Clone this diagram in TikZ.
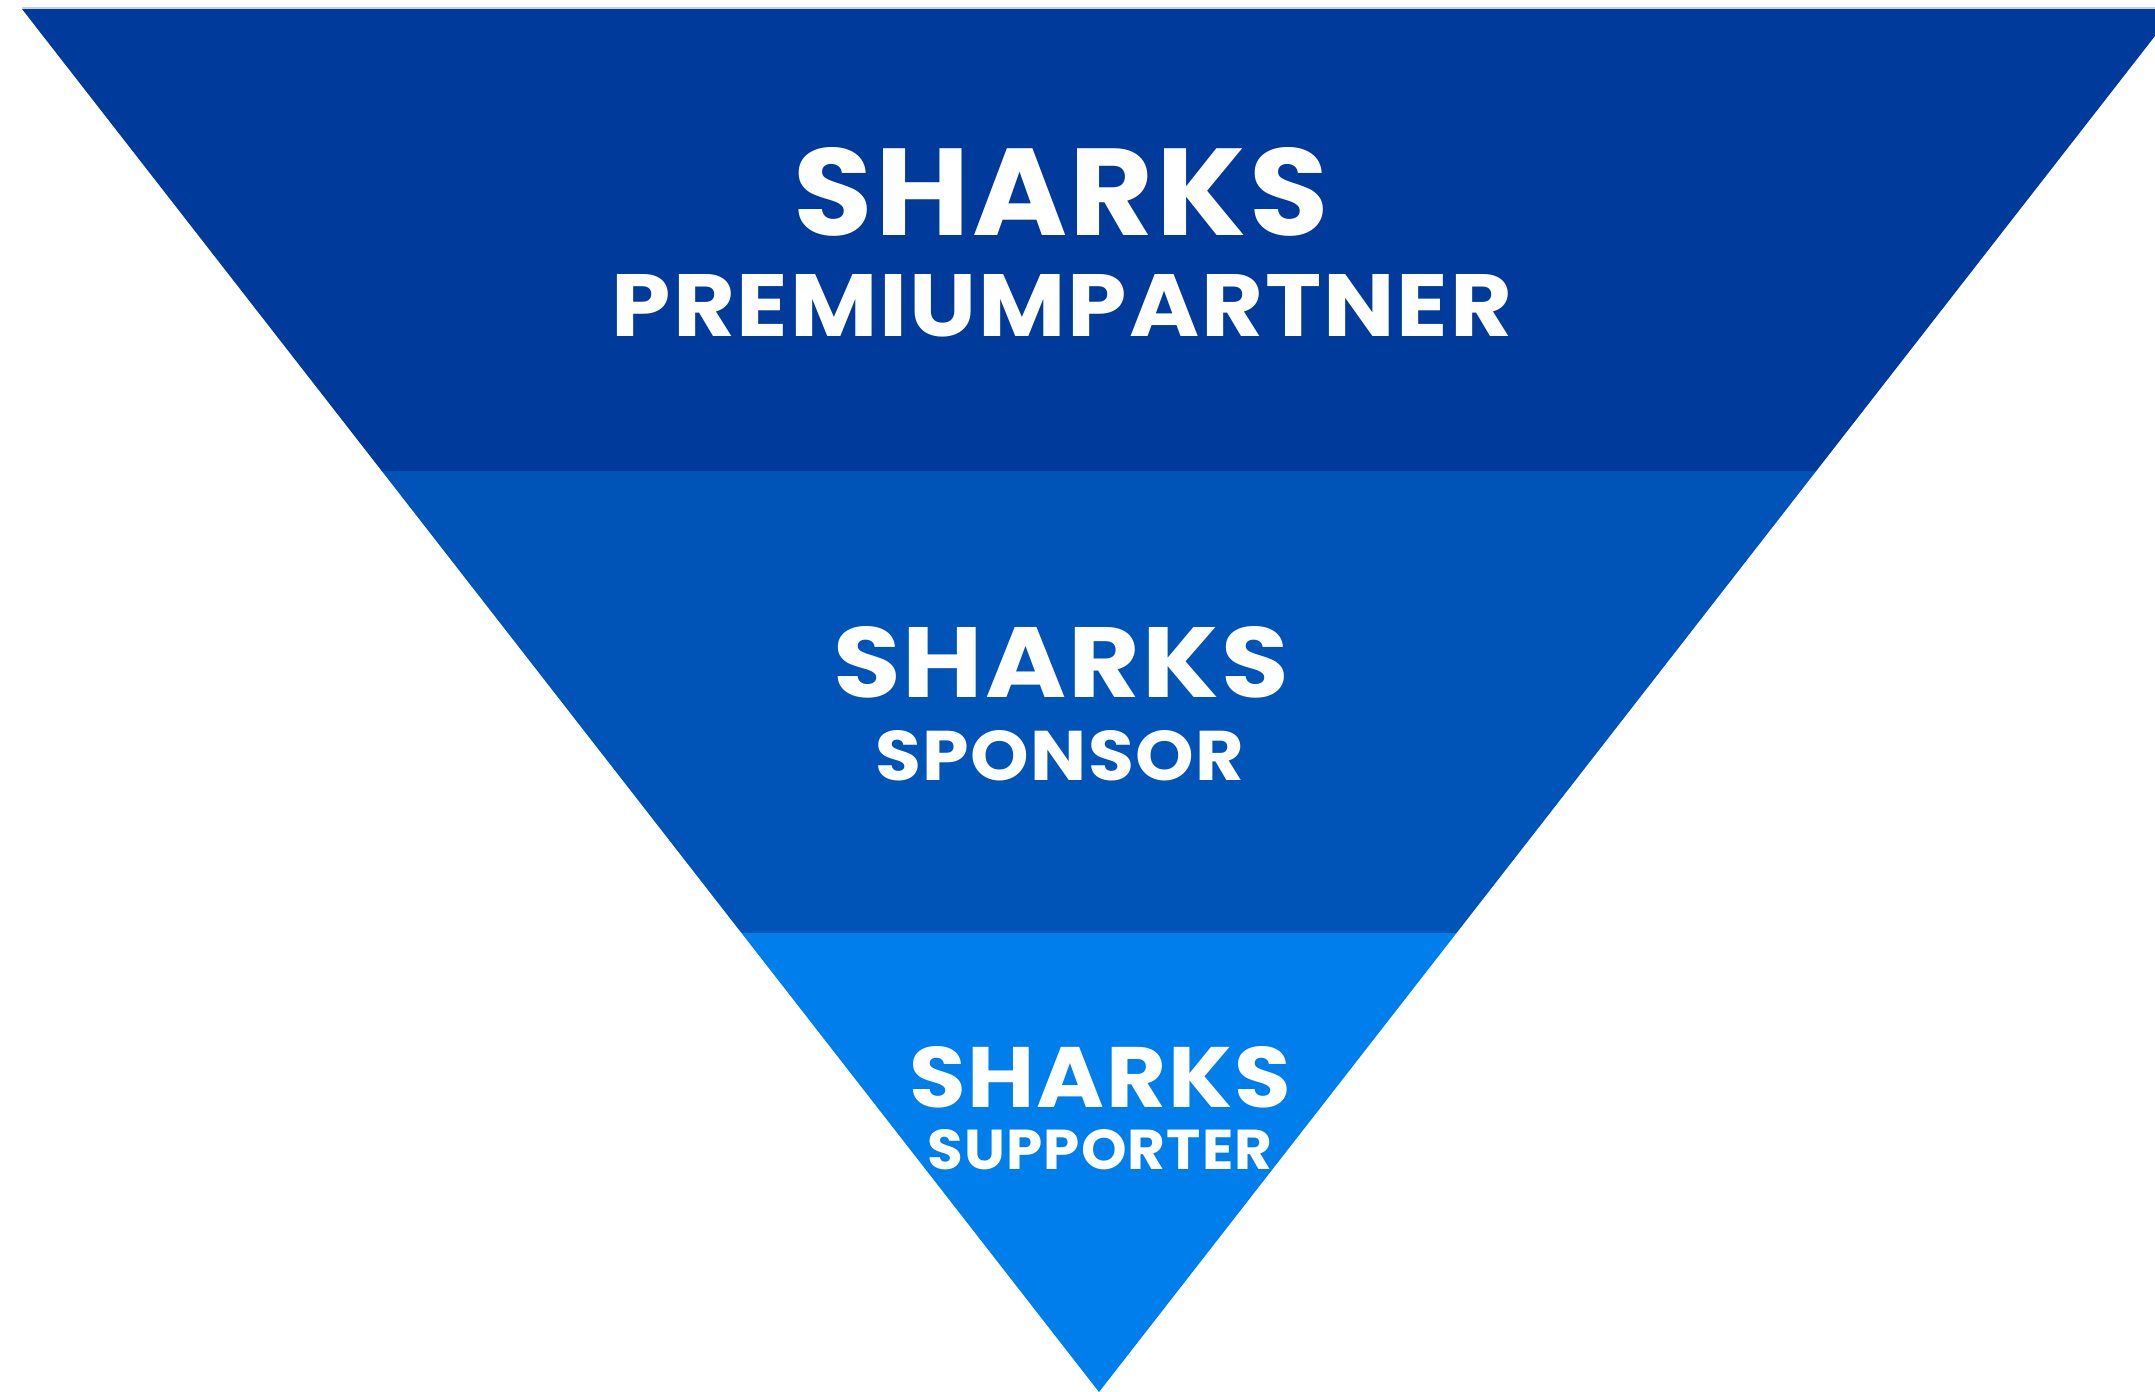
\documentclass[tikz,border=0pt]{standalone}
\usepackage{fontspec}
\setmainfont{Poppins}[LetterSpace=2]
\usepackage{graphicx}
\definecolor{bandA}{HTML}{003A9A}
\definecolor{bandB}{HTML}{0054B7}
\definecolor{bandC}{HTML}{007EEB}
\definecolor{edgegrey}{HTML}{C9D0DD}
\begin{document}
\begin{tikzpicture}[x=1pt,y=-1pt,
  lbl/.style={text=white,inner sep=0pt,outer sep=0pt,anchor=center,font=\bfseries}]
\useasboundingbox (0,0) rectangle (2155,1392);
\clip (0,0) rectangle (2155,1392);
% corners of the inverted triangle and band boundaries
\coordinate (tl) at (22,9);
\coordinate (tr) at (2176,9);
\coordinate (apex) at (1099,1392);
\coordinate (l1) at (381.8,471);
\coordinate (r1) at (1816.2,471);
\coordinate (l2) at (741.5,933);
\coordinate (r2) at (1456.5,933);
% bands
\fill[bandA] (tl) -- (tr) -- (r1) -- (l1) -- cycle;
\fill[bandB] (l1) -- (r1) -- (r2) -- (l2) -- cycle;
\fill[bandC] (l2) -- (r2) -- (apex) -- cycle;
\draw[edgegrey,line width=1.2pt] (tl) ++(0,-1) -- (2155,8);
% labels
\node[lbl] (t1) at (1061,192) {\resizebox{535pt}{88pt}{SHARKS}};
\node[lbl] (s1) at (1062,306) {\resizebox{900pt}{62pt}{PREMIUMPARTNER}};
\node[lbl] (t2) at (1061,662.5) {\resizebox{456pt}{71pt}{SHARKS}};
\node[lbl] (s2) at (1060,755.5) {\resizebox{369pt}{50pt}{SPONSOR}};
\node[lbl] (t3) at (1100,1077.5) {\resizebox{382pt}{61pt}{SHARKS}};
\node[lbl] (s3) at (1100,1150) {\resizebox{345pt}{40pt}{SUPPORTER}};
\end{tikzpicture}
\end{document}
